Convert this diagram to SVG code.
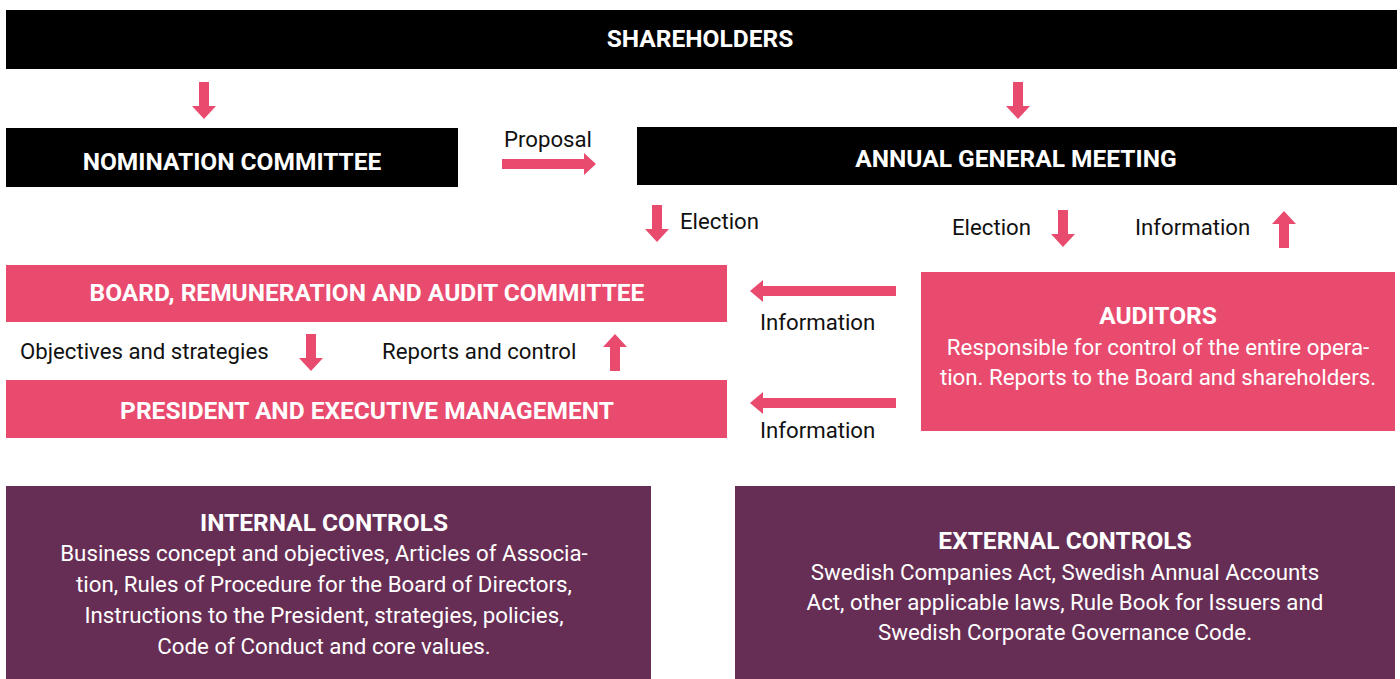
<svg xmlns="http://www.w3.org/2000/svg" width="1400" height="679" viewBox="0 0 1400 679">
<style>
.black{fill:#000}
.pink{fill:#e94b6f}
.purple{fill:#672e55}
.arr{fill:#e94b6f}
.h{font-family:Roboto,"Liberation Sans",sans-serif;font-weight:bold;fill:#fff;text-anchor:middle;font-size:24.5px}
.b{font-family:Roboto,"Liberation Sans",sans-serif;fill:#fff;text-anchor:middle;font-size:22.3px}
.l{font-family:Roboto,"Liberation Sans",sans-serif;fill:#111;font-size:22.2px}
</style>
<defs>
<path id="down" d="M-5,0 H5 V24 H12 L0,37 L-12,24 H-5 Z"/>
<path id="up" d="M-5,37 H5 V13 H12 L0,0 L-12,13 H-5 Z"/>
<path id="right" d="M0,-5 V5 H82 V11 L94,0 L82,-11 V-5 Z"/>
<path id="left" d="M146,-5 V5 H13 V11 L0,0 L13,-11 V-5 Z"/>
</defs>
<rect width="1400" height="679" fill="#fff"/>
<g id="shareholders"><rect class="black" x="6" y="10" width="1391" height="59"/><text class="h" x="700" y="47">SHAREHOLDERS</text></g>
<g id="nomination"><rect class="black" x="6" y="128" width="452" height="59"/><text class="h" x="232" y="170">NOMINATION COMMITTEE</text></g>
<g id="agm"><rect class="black" x="637" y="127" width="760" height="58"/><text class="h" x="1016" y="167">ANNUAL GENERAL MEETING</text></g>
<g id="board"><rect class="pink" x="6" y="265" width="721" height="57"/><text class="h" x="367" y="301">BOARD, REMUNERATION AND AUDIT COMMITTEE</text></g>
<g id="president"><rect class="pink" x="6" y="380" width="721" height="58"/><text class="h" x="367" y="419">PRESIDENT AND EXECUTIVE MANAGEMENT</text></g>
<g id="auditors"><rect class="pink" x="921" y="272" width="474" height="159"/><text class="h" x="1158" y="324">AUDITORS</text><text class="b" x="1158" y="355">Responsible for control of the entire opera-</text><text class="b" x="1158" y="385">tion. Reports to the Board and shareholders.</text></g>
<g id="internal"><rect class="purple" x="6" y="486" width="645" height="200"/><text class="h" x="324" y="531">INTERNAL CONTROLS</text><text class="b" x="324" y="561">Business concept and objectives, Articles of Associa-</text><text class="b" x="324" y="592">tion, Rules of Procedure for the Board of Directors,</text><text class="b" x="324" y="623">Instructions to the President, strategies, policies,</text><text class="b" x="324" y="654">Code of Conduct and core values.</text></g>
<g id="external"><rect class="purple" x="735" y="486" width="660" height="200"/><text class="h" x="1065" y="549">EXTERNAL CONTROLS</text><text class="b" x="1065" y="580">Swedish Companies Act, Swedish Annual Accounts</text><text class="b" x="1065" y="610">Act, other applicable laws, Rule Book for Issuers and</text><text class="b" x="1065" y="640">Swedish Corporate Governance Code.</text></g>
<g id="connectors">
<use href="#down" class="arr" x="204" y="82"/>
<use href="#down" class="arr" x="1018" y="82"/>
<use href="#right" class="arr" x="502" y="164"/>
<text class="l" x="504" y="147">Proposal</text>
<use href="#down" class="arr" x="657" y="205"/>
<text class="l" x="680" y="229">Election</text>
<text class="l" x="952" y="235">Election</text>
<use href="#down" class="arr" x="1063" y="210"/>
<text class="l" x="1135" y="235">Information</text>
<use href="#up" class="arr" x="1284" y="211"/>
<text class="l" x="20" y="359">Objectives and strategies</text>
<use href="#down" class="arr" x="311" y="334"/>
<text class="l" x="382" y="359">Reports and control</text>
<use href="#up" class="arr" x="615" y="334"/>
<use href="#left" class="arr" x="750" y="291"/>
<text class="l" x="760" y="330">Information</text>
<use href="#left" class="arr" x="750" y="403"/>
<text class="l" x="760" y="438">Information</text>
</g>
</svg>
